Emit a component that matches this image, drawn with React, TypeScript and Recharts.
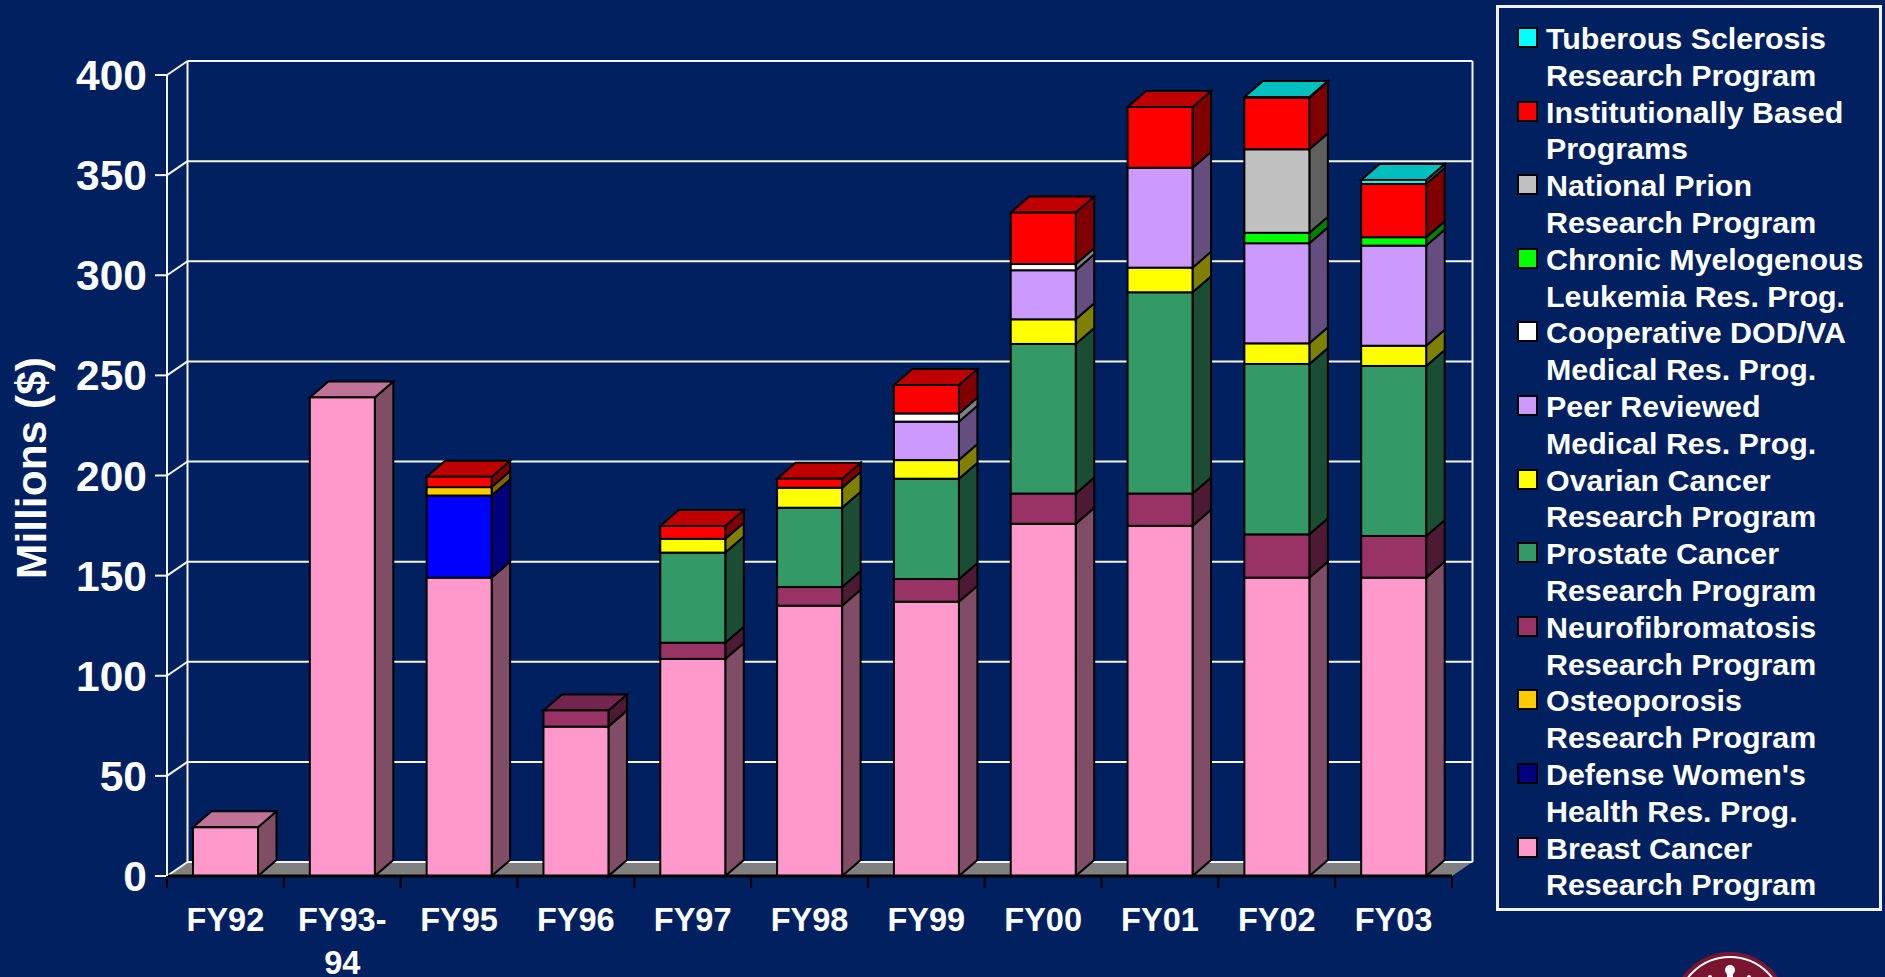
import { BarChart, Bar, XAxis, YAxis, CartesianGrid, Legend } from 'recharts'

const categories = ['FY92', 'FY93-94', 'FY95', 'FY96', 'FY97', 'FY98', 'FY99', 'FY00', 'FY01', 'FY02', 'FY03']
const yTicks = [0, 50, 100, 150, 200, 250, 300, 350, 400]

// stacked bottom to top, one value per fiscal year ($ millions)
const breast = [24.3, 239, 149, 74.6, 108.4, 135, 137, 175.9, 174.9, 149, 149]
const defense = [0, 0, 41, 0, 0, 0, 0, 0, 0, 0, 0]
const osteoporosis = [0, 0, 4.2, 0, 0, 0, 0, 0, 0, 0, 0]
const neuro = [0, 0, 0, 8.1, 8.1, 9.3, 11.3, 15.1, 16.1, 21.6, 20.8]
const prostate = [0, 0, 0, 0, 45, 39.6, 50.1, 74.7, 100.5, 85.1, 84.9]
const ovarian = [0, 0, 0, 0, 6.9, 10, 9.3, 12.3, 12.3, 10.3, 10.1]
const peer = [0, 0, 0, 0, 0, 0, 19.2, 24.5, 49.9, 50, 50]
const cooperative = [0, 0, 0, 0, 0, 0, 4.1, 3.1, 0, 0, 0]
const chronic = [0, 0, 0, 0, 0, 0, 0, 0, 0, 5.2, 4.2]
const prion = [0, 0, 0, 0, 0, 0, 0, 0, 0, 41.7, 0]
const institutional = [0, 0, 5.2, 0, 6.4, 4.5, 14.2, 25.7, 30.3, 25.8, 26.6]
const tuberous = [0, 0, 0, 0, 0, 0, 0, 0, 0, 0.3, 2]

const seriesKeys = ['breast', 'defense', 'osteoporosis', 'neuro', 'prostate', 'ovarian', 'peer', 'cooperative', 'chronic', 'prion', 'institutional', 'tuberous']
const seriesValues = [breast, defense, osteoporosis, neuro, prostate, ovarian, peer, cooperative, chronic, prion, institutional, tuberous]
const seriesColors = ['#FF99CC', '#0000FF', '#FFCC00', '#993366', '#339966', '#FFFF00', '#CC99FF', '#FFFFFF', '#00FF00', '#C0C0C0', '#FF0000', '#00FFFF']

// legend reads top to bottom; the Defense swatch is navy in the original
const legendItems = [
  ['Tuberous Sclerosis', 'Research Program', '#00FFFF'],
  ['Institutionally Based', 'Programs', '#FF0000'],
  ['National Prion', 'Research Program', '#C0C0C0'],
  ['Chronic Myelogenous', 'Leukemia Res. Prog.', '#00FF00'],
  ['Cooperative DOD/VA', 'Medical Res. Prog.', '#FFFFFF'],
  ['Peer Reviewed', 'Medical Res. Prog.', '#CC99FF'],
  ['Ovarian Cancer', 'Research Program', '#FFFF00'],
  ['Prostate Cancer', 'Research Program', '#339966'],
  ['Neurofibromatosis', 'Research Program', '#993366'],
  ['Osteoporosis', 'Research Program', '#FFCC00'],
  ["Defense Women's", 'Health Res. Prog.', '#000080'],
  ['Breast Cancer', 'Research Program', '#FF99CC'],
]

const chartData = categories.map((name, i) => {
  const row: Record<string, string | number> = { name }
  seriesKeys.forEach((key, s) => {
    row[key] = seriesValues[s][i]
  })
  return row
})

const BG = '#002060'
const FONT = '"Liberation Sans", Arial, sans-serif'
const WIDTH = 1885
const HEIGHT = 977
const PLOT = { left: 167, right: 1452, top: 75, bottom: 876 }
const WALL = { dx: 20.5, dy: 14 }
const BAR_DEPTH = { dx: 18.5, dy: 16 }

function shade(hex: string, factor: number) {
  const n = parseInt(hex.slice(1), 16)
  const c = [(n >> 16) & 255, (n >> 8) & 255, n & 255].map((v) => Math.round(v * factor))
  return `rgb(${c[0]},${c[1]},${c[2]})`
}

function Bar3D(props: any) {
  const { x, y, width, height, fill, payload, dataKey } = props
  if (!height || height <= 0) return null
  const idx = seriesKeys.indexOf(dataKey)
  const isTop = seriesKeys.slice(idx + 1).every((k) => !payload[k])
  const { dx, dy } = BAR_DEPTH
  const r = x + width
  const b = y + height
  return (
    <g stroke="#000" strokeWidth={2} strokeLinejoin="miter">
      <polygon points={`${r},${y} ${r + dx},${y - dy} ${r + dx},${b - dy} ${r},${b}`} fill={shade(fill, 0.5)} />
      {isTop && (
        <polygon points={`${x},${y} ${x + dx},${y - dy} ${r + dx},${y - dy} ${r},${y}`} fill={shade(fill, 0.75)} />
      )}
      <rect x={x} y={y} width={width} height={height} fill={fill} />
    </g>
  )
}

// back wall and floor of the 3D box, hung off the grid so it stays behind the bars
function WallLine(props: any) {
  const { x1, x2, y1, key } = props
  const { dx, dy } = WALL
  const isFloor = Math.abs(y1 - PLOT.bottom) < 1
  const isRoof = Math.abs(y1 - PLOT.top) < 1
  return (
    <g key={key} stroke="#F4F6FA" strokeWidth={2} fill="none">
      {isFloor && (
        <polygon
          points={`${x1},${y1} ${x1 + dx},${y1 - dy} ${x2 + dx},${y1 - dy} ${x2},${y1}`}
          fill="#808080"
          stroke="none"
        />
      )}
      <line x1={x1 + dx} y1={y1 - dy} x2={x2 + dx} y2={y1 - dy} />
      <line x1={x1} y1={y1} x2={x1 + dx} y2={y1 - dy} />
      {isRoof && (
        <>
          <line x1={x1 + dx} y1={y1 - dy} x2={x1 + dx} y2={PLOT.bottom - dy} />
          <line x1={x2 + dx} y1={y1 - dy} x2={x2 + dx} y2={PLOT.bottom - dy} />
        </>
      )}
    </g>
  )
}

function CategoryTick(props: any) {
  const { x, y, payload, index } = props
  const band = (PLOT.right - PLOT.left) / categories.length
  const lines = String(payload.value).split(/(?<=-)/)
  return (
    <g>
      <line x1={x - band / 2} y1={y} x2={x - band / 2} y2={y + 12} stroke="#000" strokeWidth={2} />
      {index === categories.length - 1 && (
        <line x1={x + band / 2} y1={y} x2={x + band / 2} y2={y + 12} stroke="#000" strokeWidth={2} />
      )}
      {lines.map((line, i) => (
        <text key={line} x={x} y={y + 54.5 + i * 43} textAnchor="middle" fill="#fff" fontSize={32.5} fontWeight={700} fontFamily={FONT}>
          {line}
        </text>
      ))}
    </g>
  )
}

function AxisTitle() {
  return (
    <text transform="translate(46,468) rotate(-90)" textAnchor="middle" fill="#fff" fontSize={42.5} fontWeight={700} fontFamily={FONT}>
      Millions ($)
    </text>
  )
}

function LegendBox() {
  return (
    <div
      style={{
        boxSizing: 'border-box',
        width: 386,
        height: 906,
        border: '3px solid #F0F2F8',
        padding: '12px 0 0 18px',
        color: '#fff',
        fontFamily: FONT,
        fontWeight: 700,
        fontSize: 30.4,
        lineHeight: '36.8px',
        textAlign: 'left',
      }}
    >
      {legendItems.map(([first, second, color]) => (
        <div key={first} style={{ position: 'relative', paddingLeft: 29, whiteSpace: 'nowrap' }}>
          <span
            style={{
              position: 'absolute',
              left: 0,
              top: 7,
              boxSizing: 'border-box',
              width: 21,
              height: 21,
              background: color,
              border: '2px solid #000',
            }}
          />
          <div>{first}</div>
          <div>{second}</div>
        </div>
      ))}
    </div>
  )
}

// crest at the bottom edge, only its top shows
function Crest() {
  return (
    <svg width={WIDTH} height={HEIGHT} style={{ position: 'absolute', left: 0, top: 0, pointerEvents: 'none' }}>
      <circle cx={1730} cy={1010} r={58} fill="#7A1530" />
      <circle cx={1730} cy={1010} r={53} fill="none" stroke="#fff" strokeWidth={2} />
      <circle cx={1730} cy={970} r={5} fill="#fff" />
      <rect x={1727} y={974} width={6} height={4} fill="#fff" />
      <circle cx={1710} cy={977} r={2} fill="#fff" />
      <circle cx={1749} cy={977} r={2} fill="#fff" />
    </svg>
  )
}

export default function App() {
  return (
    <div style={{ position: 'absolute', left: 0, top: 0, width: WIDTH, height: HEIGHT, background: BG, overflow: 'hidden' }}>
      <BarChart
        width={WIDTH}
        height={HEIGHT}
        data={chartData}
        barSize={65}
        margin={{ top: PLOT.top, right: WIDTH - PLOT.right, bottom: 0, left: 0 }}
      >
        <CartesianGrid vertical={false} horizontal={WallLine as any} />
        <XAxis
          dataKey="name"
          interval={0}
          height={HEIGHT - PLOT.bottom}
          tickSize={0}
          tickMargin={0}
          axisLine={{ stroke: '#000', strokeWidth: 3 }}
          tick={CategoryTick as any}
        />
        <YAxis
          width={PLOT.left}
          domain={[0, 400]}
          ticks={yTicks}
          interval={0}
          tickSize={12}
          tickMargin={8}
          axisLine={{ stroke: '#F4F6FA', strokeWidth: 2 }}
          tickLine={{ stroke: '#F4F6FA', strokeWidth: 2 }}
          tick={{ fill: '#fff', fontSize: 42.5, fontWeight: 700, fontFamily: FONT }}
          label={{ content: AxisTitle as any }}
        />
        <Legend
          layout="horizontal"
          align="center"
          verticalAlign="middle"
          wrapperStyle={{ left: 1496, top: 5, width: 386, height: 906 }}
          content={LegendBox as any}
        />
        {seriesKeys.map((key, s) => (
          <Bar key={key} dataKey={key} stackId="total" fill={seriesColors[s]} shape={Bar3D as any} isAnimationActive={false} />
        ))}
      </BarChart>
      <Crest />
    </div>
  )
}
